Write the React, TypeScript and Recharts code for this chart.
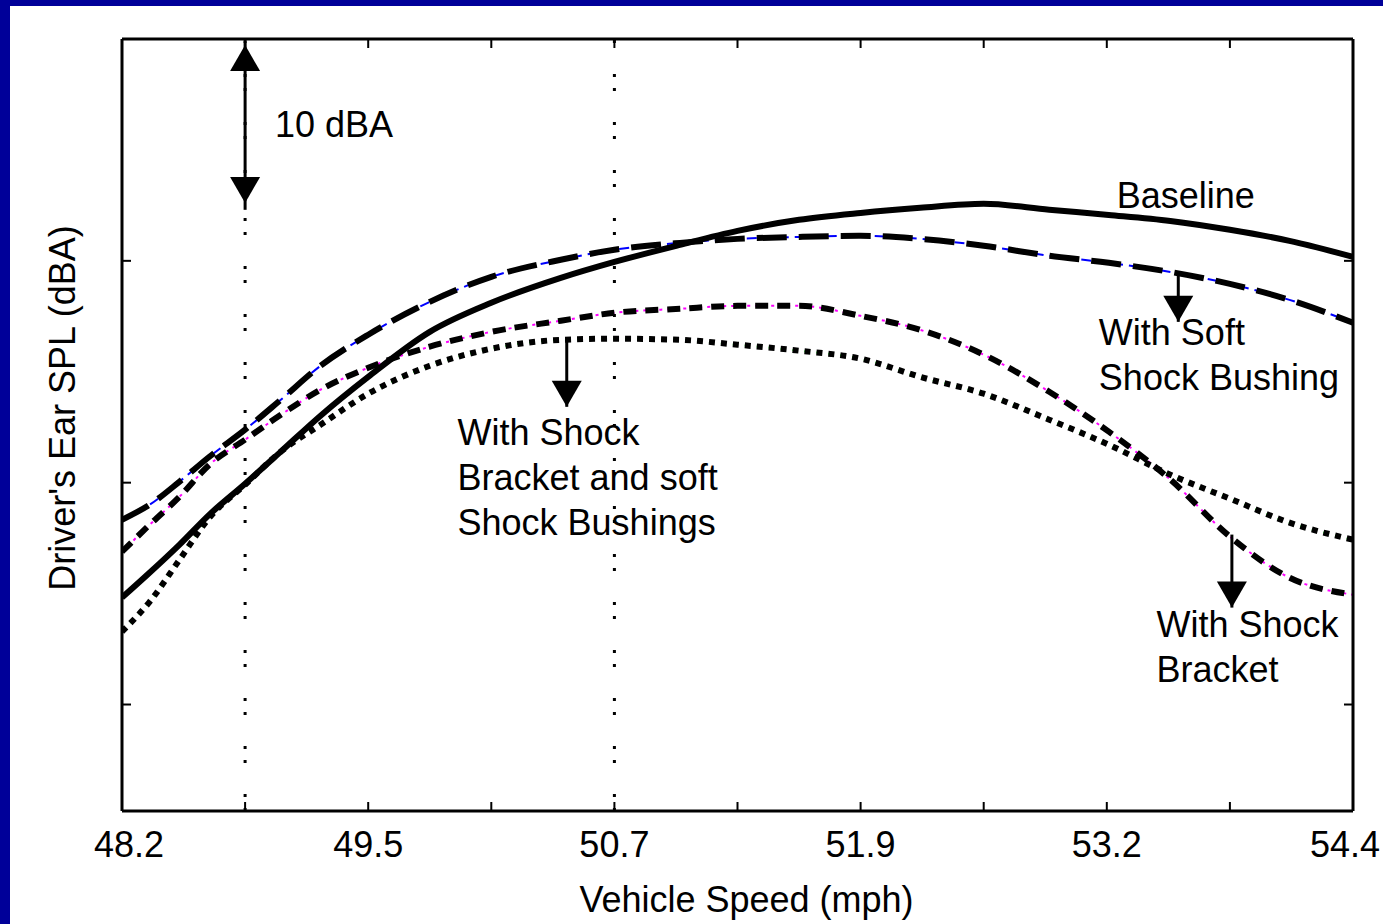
import React from 'react';
import { LineChart, Line, XAxis, YAxis, ReferenceLine, ReferenceDot } from 'recharts';

// vehicle speed samples (mph)
const SPEED = [48.2, 48.34, 48.49, 48.64, 48.82, 49.0, 49.2, 49.44, 49.75, 50.06, 50.41, 50.68, 51.01, 51.3, 51.61, 51.92, 52.22, 52.54, 52.87, 53.17, 53.48, 53.78, 54.08, 54.4];
// driver's ear SPL (dBA) per configuration
const BASELINE = [74.82, 75.95, 77.21, 78.56, 79.95, 81.4, 83.02, 84.77, 86.8, 88.11, 89.23, 89.95, 90.72, 91.35, 91.85, 92.16, 92.39, 92.57, 92.3, 92.07, 91.8, 91.4, 90.9, 90.18];
const SOFT_BUSHING = [78.33, 79.01, 80.05, 81.17, 82.39, 83.74, 85.27, 86.67, 88.15, 89.28, 90.05, 90.5, 90.81, 90.99, 91.08, 91.13, 90.99, 90.68, 90.23, 89.91, 89.5, 88.96, 88.24, 87.21];
const BRACKET = [76.89, 78.11, 79.37, 80.81, 81.94, 83.06, 84.19, 85.18, 86.13, 86.8, 87.3, 87.66, 87.84, 87.97, 87.97, 87.52, 86.89, 85.77, 84.1, 82.3, 80.14, 77.57, 75.72, 74.95];
const BRACKET_SOFT = [73.29, 74.64, 76.53, 78.42, 79.91, 81.4, 82.61, 84.01, 85.27, 86.04, 86.44, 86.49, 86.44, 86.22, 85.95, 85.59, 84.77, 84.01, 82.84, 81.71, 80.36, 79.28, 78.2, 77.43];

const X_TICKS = [48.2, 48.82, 49.44, 50.06, 50.68, 51.3, 51.92, 52.54, 53.16, 53.78, 54.4];
const X_TICK_LABELS = ['48.2', '', '49.5', '', '50.7', '', '51.9', '', '53.2', '', '54.4'];
const Y_TICKS = [70, 80, 90];
const X_DOMAIN = [48.2, 54.4];
const Y_DOMAIN = [65.2, 100];
const DOTTED_X = [48.82, 50.68];

// annotations (data coordinates)
const LABELS = [
  { x: 48.97, y: 95.59, lines: ['10 dBA'] },
  { x: 53.21, y: 92.39, lines: ['Baseline'] },
  { x: 53.12, y: 86.22, lines: ['With Soft', 'Shock Bushing'] },
  { x: 53.41, y: 73.06, lines: ['With Shock', 'Bracket'] },
  { x: 49.89, y: 81.71, lines: ['With Shock', 'Bracket and soft', 'Shock Bushings'] },
];
const ARROWS = [
  { x: 48.82, from: 99.9, to: 92.3, heads: [{ y: 99.73, dir: 'up' }, { y: 92.61, dir: 'down' }] },
  { x: 53.52, from: 89.37, to: 87.25, heads: [{ y: 87.25, dir: 'down' }] },
  { x: 53.79, from: 77.66, to: 74.37, heads: [{ y: 74.37, dir: 'down' }] },
  { x: 50.44, from: 86.44, to: 83.42, heads: [{ y: 83.42, dir: 'down' }] },
];

const FONT = "'Liberation Sans', Arial, sans-serif";
const NAVY = '#000099';

const rows = SPEED.map((x, i) => ({
  x,
  baseline: BASELINE[i],
  soft: SOFT_BUSHING[i],
  bracket: BRACKET[i],
  bracketSoft: BRACKET_SOFT[i],
}));

const XTick = ({ x, y, payload, index }: any) => {
  const i = X_TICKS.indexOf(payload?.value);
  const k = i >= 0 ? i : index;
  const label = X_TICK_LABELS[k] ?? '';
  // end labels sit a little inside the frame, as in the original
  const dx = k === 0 ? 7 : k === X_TICKS.length - 1 ? -8 : 0;
  return (
    <text x={x + dx} y={y} textAnchor="middle" fontSize={36} fontFamily={FONT} fill="#000">
      {label}
    </text>
  );
};

const head = (dir: string) => (p: any) => {
  const { cx, cy } = p;
  const h = 26;
  const w = 15;
  const s = dir === 'up' ? 1 : -1;
  return <path d={`M${cx},${cy} L${cx - w},${cy + s * h} L${cx + w},${cy + s * h} Z`} fill="#000" />;
};

const textBlock = (lines: string[]) => (p: any) => {
  const { cx, cy } = p;
  return (
    <text x={cx} y={cy} fontSize={36} fontFamily={FONT} fill="#000">
      {lines.map((l, i) => (
        <tspan key={i} x={cx} dy={i === 0 ? 0 : 45}>{l}</tspan>
      ))}
    </text>
  );
};

export default function App() {
  const lineBase = { type: 'monotone' as const, dot: false, activeDot: false, isAnimationActive: false };
  return (
    <div style={{ position: 'fixed', left: 0, top: 0, width: 1383, height: 924, background: NAVY }}>
      <div style={{ position: 'absolute', left: 10, top: 6, width: 1373, height: 918, background: '#fff' }}>
        <LineChart width={1373} height={918} data={rows} margin={{ top: 0, right: 0, left: 0, bottom: 0 }}>
          <XAxis
            dataKey="x"
            type="number"
            domain={X_DOMAIN}
            allowDataOverflow
            ticks={X_TICKS}
            interval={0}
            height={113}
            tickSize={-9}
            tickMargin={55}
            axisLine={{ stroke: '#000', strokeWidth: 3 }}
            tickLine={{ stroke: '#000', strokeWidth: 2 }}
            tick={<XTick />}
            label={{
              content: (props: any) => {
                const vb = props.viewBox;
                return (
                  <text x={vb.x + vb.width / 2 + 9} y={vb.y + 101} textAnchor="middle" fontSize={36} fontFamily={FONT} fill="#000">
                    Vehicle Speed (mph)
                  </text>
                );
              },
            }}
          />
          <XAxis
            xAxisId="top"
            orientation="top"
            dataKey="x"
            type="number"
            domain={X_DOMAIN}
            allowDataOverflow
            ticks={X_TICKS}
            interval={0}
            height={33}
            tickSize={-9}
            axisLine={{ stroke: '#000', strokeWidth: 3 }}
            tickLine={{ stroke: '#000', strokeWidth: 2 }}
            tickFormatter={() => ''}
          />
          <YAxis
            type="number"
            domain={Y_DOMAIN}
            allowDataOverflow
            ticks={Y_TICKS}
            interval={0}
            width={112}
            tickSize={-9}
            axisLine={{ stroke: '#000', strokeWidth: 3 }}
            tickLine={{ stroke: '#000', strokeWidth: 2 }}
            tickFormatter={() => ''}
            label={{
              content: (props: any) => {
                const vb = props.viewBox;
                const cx = vb.x + 52;
                const cy = vb.y + vb.height / 2 - 17;
                return (
                  <text x={cx} y={cy} transform={`rotate(-90 ${cx} ${cy})`} textAnchor="middle" dominantBaseline="central" fontSize={36} fontFamily={FONT} fill="#000">
                    Driver's Ear SPL (dBA)
                  </text>
                );
              },
            }}
          />
          <YAxis
            yAxisId="right"
            orientation="right"
            type="number"
            domain={Y_DOMAIN}
            allowDataOverflow
            ticks={Y_TICKS}
            interval={0}
            width={30}
            tickSize={-9}
            axisLine={{ stroke: '#000', strokeWidth: 3 }}
            tickLine={{ stroke: '#000', strokeWidth: 2 }}
            tickFormatter={() => ''}
          />

          {DOTTED_X.map((x) => (
            <ReferenceLine key={x} x={x} stroke="#000" strokeWidth={3} strokeDasharray="3 11 3 31" />
          ))}

          {/* thin coloured traces, peeking through the gaps of the black ones */}
          <Line {...lineBase} dataKey="baseline" name="baseline-c" stroke="#ff0000" strokeWidth={2} />
          <Line {...lineBase} dataKey="soft" name="soft-c" stroke="#0000ff" strokeWidth={2} strokeDasharray="10 6" />
          <Line {...lineBase} dataKey="bracket" name="bracket-c" stroke="#ff00ff" strokeWidth={2} strokeDasharray="3 5" />
          <Line {...lineBase} dataKey="bracketSoft" name="bracketSoft-c" stroke="#00ff00" strokeWidth={2} strokeDasharray="4 8" />

          <Line {...lineBase} dataKey="baseline" name="Baseline" stroke="#000" strokeWidth={6} />
          <Line {...lineBase} dataKey="soft" name="With Soft Shock Bushing" stroke="#000" strokeWidth={6} strokeDasharray="30 12" />
          <Line {...lineBase} dataKey="bracket" name="With Shock Bracket" stroke="#000" strokeWidth={6} strokeDasharray="13 9" />
          <Line {...lineBase} dataKey="bracketSoft" name="With Shock Bracket and soft Shock Bushings" stroke="#000" strokeWidth={6} strokeDasharray="6 6" />

          {ARROWS.map((a, i) => (
            <ReferenceLine
              key={`s${i}`}
              segment={[{ x: a.x, y: a.from }, { x: a.x, y: a.to }]}
              stroke="#000"
              strokeWidth={3}
              ifOverflow="visible"
            />
          ))}
          {ARROWS.flatMap((a, i) =>
            a.heads.map((h, j) => (
              <ReferenceDot key={`h${i}-${j}`} x={a.x} y={h.y} r={1} ifOverflow="visible" shape={head(h.dir)} />
            )),
          )}
          {LABELS.map((l, i) => (
            <ReferenceDot key={`t${i}`} x={l.x} y={l.y} r={1} ifOverflow="visible" shape={textBlock(l.lines)} />
          ))}
        </LineChart>
      </div>
    </div>
  );
}
